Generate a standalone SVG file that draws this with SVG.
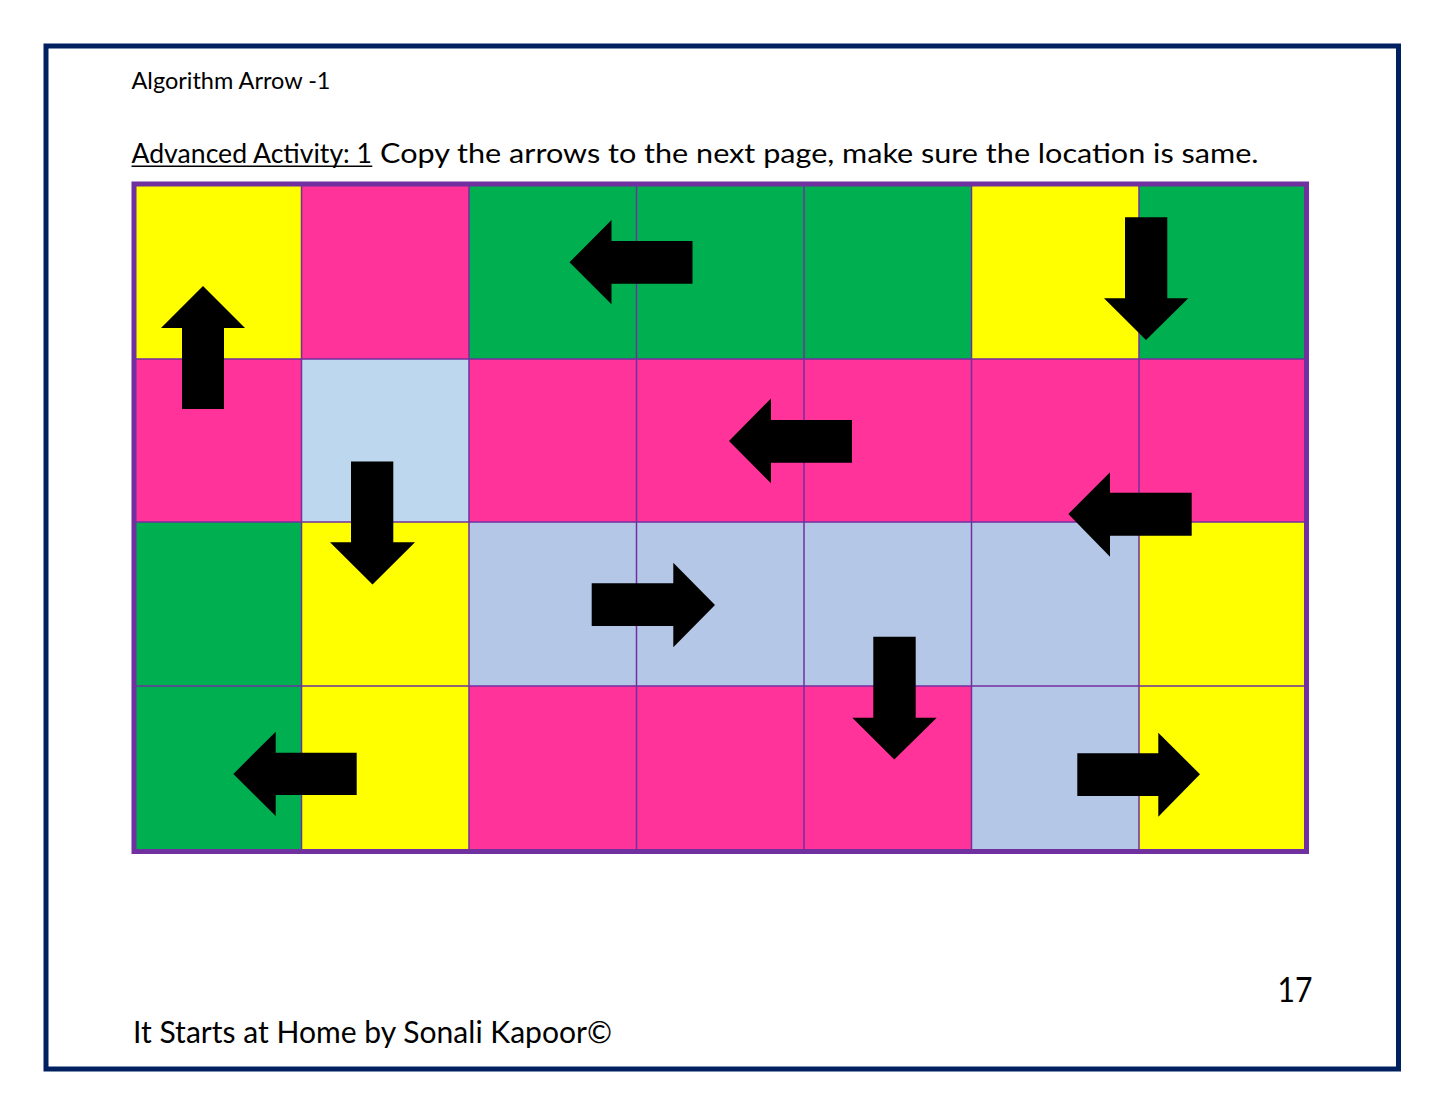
<svg xmlns="http://www.w3.org/2000/svg" width="1445" height="1116" viewBox="0 0 1445 1116">
<style>
.t{font-family:Lato,"Open Sans","Noto Sans","Liberation Sans",sans-serif;fill:#000}
.y{fill:#FFFF00}.p{fill:#FF3399}.g{fill:#00B050}.b{fill:#B4C7E7}.lb{fill:#BDD7EE}
.ln{stroke:#7030A0;stroke-width:1.5;fill:none}
.ar{fill:#000}
</style>
<rect width="1445" height="1116" fill="#fff"/>
<rect id="page-border" x="46" y="46" width="1352.5" height="1023" fill="none" stroke="#002060" stroke-width="5"/>
<g id="title"><text class="t" x="131.5" y="89" font-size="23" textLength="199" lengthAdjust="spacingAndGlyphs">Algorithm Arrow -1</text></g>
<g id="heading">
<text class="t" x="131.5" y="162.5" font-size="27" textLength="240.5" lengthAdjust="spacingAndGlyphs">Advanced Activity: 1</text>
<line x1="131.5" y1="166.3" x2="372.3" y2="166.3" stroke="#000" stroke-width="1.6"/>
<text class="t" x="380" y="162.5" font-size="27" textLength="878.5" lengthAdjust="spacingAndGlyphs">Copy the arrows to the next page, make sure the location is same.</text>
</g>
<g id="grid">
<rect class="y" x="134" y="184" width="167.5" height="175"/>
<rect class="p" x="301.5" y="184" width="167.5" height="175"/>
<rect class="g" x="469" y="184" width="167.5" height="175"/>
<rect class="g" x="636.5" y="184" width="167.5" height="175"/>
<rect class="g" x="804" y="184" width="167.5" height="175"/>
<rect class="y" x="971.5" y="184" width="167.5" height="175"/>
<rect class="g" x="1139" y="184" width="167.5" height="175"/>
<rect class="p" x="134" y="359" width="167.5" height="163"/>
<rect class="lb" x="301.5" y="359" width="167.5" height="163"/>
<rect class="p" x="469" y="359" width="167.5" height="163"/>
<rect class="p" x="636.5" y="359" width="167.5" height="163"/>
<rect class="p" x="804" y="359" width="167.5" height="163"/>
<rect class="p" x="971.5" y="359" width="167.5" height="163"/>
<rect class="p" x="1139" y="359" width="167.5" height="163"/>
<rect class="g" x="134" y="522" width="167.5" height="164"/>
<rect class="y" x="301.5" y="522" width="167.5" height="164"/>
<rect class="b" x="469" y="522" width="167.5" height="164"/>
<rect class="b" x="636.5" y="522" width="167.5" height="164"/>
<rect class="b" x="804" y="522" width="167.5" height="164"/>
<rect class="b" x="971.5" y="522" width="167.5" height="164"/>
<rect class="y" x="1139" y="522" width="167.5" height="164"/>
<rect class="g" x="134" y="686" width="167.5" height="165.5"/>
<rect class="y" x="301.5" y="686" width="167.5" height="165.5"/>
<rect class="p" x="469" y="686" width="167.5" height="165.5"/>
<rect class="p" x="636.5" y="686" width="167.5" height="165.5"/>
<rect class="p" x="804" y="686" width="167.5" height="165.5"/>
<rect class="b" x="971.5" y="686" width="167.5" height="165.5"/>
<rect class="y" x="1139" y="686" width="167.5" height="165.5"/>
<path class="ln" d="M301.5 184V851.5M469 184V851.5M636.5 184V851.5M804 184V851.5M971.5 184V851.5M1139 184V851.5M134 359H1306.5M134 522H1306.5M134 686H1306.5"/>
<rect x="134" y="184" width="1172.5" height="667.5" fill="none" stroke="#7030A0" stroke-width="5"/>
</g>
<g id="arrows">
<polygon id="a1" class="ar" points="182,409 182,328 161,328 203,286 245,328 224,328 224,409"/>
<polygon id="a2" class="ar" points="692.5,241 611.5,241 611.5,220 569.5,262.3 611.5,304.3 611.5,283.7 692.5,283.7"/>
<polygon id="a3" class="ar" points="1125,217.3 1167.3,217.3 1167.3,298.3 1188.3,298.3 1146,340 1104,298.3 1125,298.3"/>
<polygon id="a4" class="ar" points="852,420 771,420 771,398.5 729,441 771,483.3 771,462.7 852,462.7"/>
<polygon id="a5" class="ar" points="351,461.5 393.3,461.5 393.3,542.3 415,542.3 372.5,584.5 330,542.3 351,542.3"/>
<polygon id="a6" class="ar" points="1191.7,492.7 1110,492.7 1110,472.3 1068.3,514 1110,556.7 1110,535.7 1191.7,535.7"/>
<polygon id="a7" class="ar" points="591.7,583.3 673.3,583.3 673.3,562.7 715,605 673.3,647.3 673.3,626 591.7,626"/>
<polygon id="a8" class="ar" points="873.3,636.7 915.7,636.7 915.7,717.7 936.7,717.7 894.3,759.5 852.3,717.7 873.3,717.7"/>
<polygon id="a9" class="ar" points="356.7,752.7 275.7,752.7 275.7,731.7 233.3,774 275.7,816 275.7,795 356.7,795"/>
<polygon id="a10" class="ar" points="1077.3,753.3 1158.3,753.3 1158.3,732.7 1200,774.3 1158.3,816.7 1158.3,796 1077.3,796"/>
</g>
<g id="page-number"><text class="t" x="1277.5" y="1001.5" font-size="34" textLength="35" lengthAdjust="spacingAndGlyphs">17</text></g>
<g id="footer"><text class="t" x="133" y="1043.3" font-size="30" textLength="479" lengthAdjust="spacingAndGlyphs">It Starts at Home by Sonali Kapoor©</text></g>
</svg>
